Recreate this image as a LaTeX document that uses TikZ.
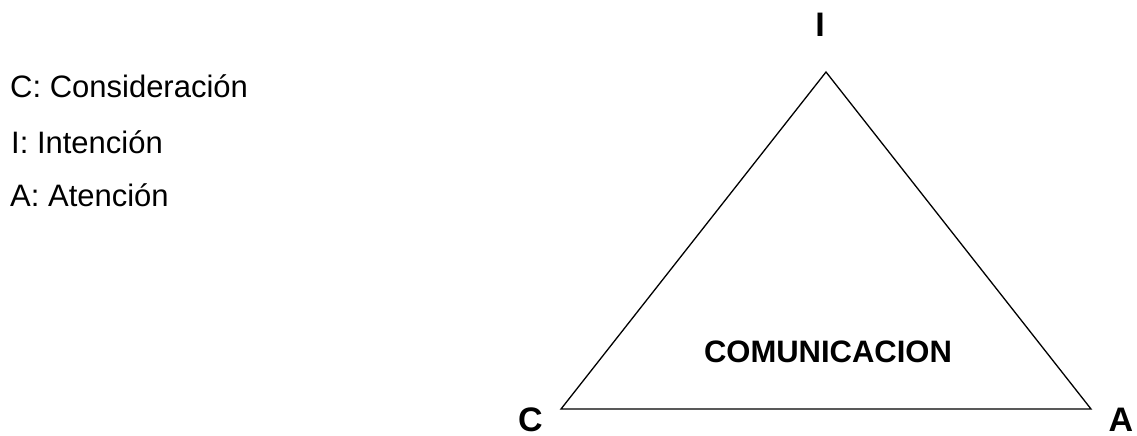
\documentclass[tikz,border=0pt]{standalone}
\usepackage{fontspec}
\setmainfont{Liberation Sans}
\begin{document}
\begin{tikzpicture}[x=1pt,y=-1pt,
  legend/.style={anchor=base west,inner sep=0pt,font=\fontsize{31}{36}\selectfont},
  vlabel/.style={anchor=base,inner sep=0pt,font=\fontsize{34}{40}\selectfont\bfseries},
  tri/.style={draw=black,line width=1.3pt,line join=miter}]
\useasboundingbox (0,0) rectangle (1137,436);
\node[legend] (l1) at (10,97) {C: Consideración};
\node[legend] (l2) at (11,153) {I: Intención};
\node[legend] (l3) at (10,206) {A: Atención};
\coordinate (vi) at (826,72);
\coordinate (vc) at (561,409);
\coordinate (va) at (1091,409);
\draw[tri] (vi) -- (vc) -- (va) -- cycle;
\node[vlabel] (li) at (820,37) {I};
\node[vlabel] (lc) at (530.5,431) {C};
\node[vlabel] (la) at (1121,431) {A};
\node[anchor=base,inner sep=0pt,font=\fontsize{31}{36}\selectfont\bfseries] (com) at (828,362) {COMUNICACION};
\end{tikzpicture}
\end{document}
